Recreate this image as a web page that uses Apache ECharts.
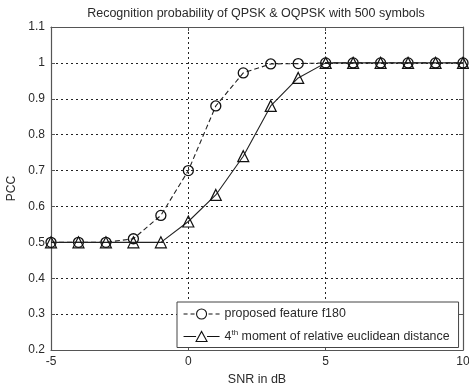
<!DOCTYPE html>
<html>
<head>
<meta charset="utf-8">
<script src="https://cdn.jsdelivr.net/npm/echarts@6/dist/echarts.min.js"></script>
<style>
  html, body { margin: 0; padding: 0; background: #fff; }
  #chart { width: 469px; height: 388px; }
</style>
</head>
<body>
<div id="chart"></div>
<script>
// SNR values (dB) and recognition probabilities
var snr = [-5, -4, -3, -2, -1, 0, 1, 2, 3, 4, 5, 6, 7, 8, 9, 10];
var pccF180 = [0.5, 0.5, 0.5, 0.51, 0.575, 0.70, 0.88, 0.972, 0.997, 0.998, 1, 1, 1, 1, 1, 1];
var pccMoment4 = [0.5, 0.5, 0.5, 0.5, 0.5, 0.558, 0.632, 0.74, 0.88, 0.958, 1, 1, 1, 1, 1, 1];
var seriesNames = ['proposed feature f180', '4{sup|th} moment of relative euclidean distance'];

var FONT = '"Liberation Sans", Arial, sans-serif';
var TXT = '#2a2a2a';
var HOLLOW = 'rgba(255,255,255,0)';

function pairs(xs, ys) {
  return xs.map(function (x, i) { return [x, ys[i]]; });
}

// legend glyphs: dashed line with a circle, solid line with a triangle (36 x 12 box)
var iconF180 = 'path://M0,6H4M7,6H11M13,6A5,5,0,1,0,23,6A5,5,0,1,0,13,6M25,6H29M32,6H36';
var iconMoment4 = 'path://M0,6H12.5M23.5,6H36M12.5,11L18,1L23.5,11Z';

var dashF180 = [5, 3];
var gridLine = { show: true, lineStyle: { color: '#222', type: [2, 3], width: 1 } };
var axisLine = { show: true, onZero: false, lineStyle: { color: '#555', width: 1.2 } };
var tick = { show: true, inside: true, length: 4, lineStyle: { color: '#555' } };

var chart = echarts.init(document.getElementById('chart'), null, { renderer: 'canvas' });
chart.setOption({
  animation: false,
  backgroundColor: '#fff',
  title: {
    text: 'Recognition probability of QPSK & OQPSK with 500 symbols',
    left: 251, top: 2, textAlign: 'center',
    textStyle: { fontFamily: FONT, fontSize: 12.5, fontWeight: 'normal', color: TXT }
  },
  grid: { left: 51, right: 6, top: 27, bottom: 38, outerBoundsMode: 'none', containLabel: false },
  xAxis: [{
    type: 'value', min: -5, max: 10, interval: 5,
    name: 'SNR in dB', nameLocation: 'middle', nameGap: 21,
    nameTextStyle: { fontFamily: FONT, fontSize: 12.5, color: TXT },
    axisLine: axisLine, axisTick: tick, splitLine: gridLine,
    axisLabel: { fontFamily: FONT, fontSize: 12, color: TXT, margin: 6 }
  }, {
    type: 'value', position: 'top', min: -5, max: 10, interval: 5,
    axisLine: axisLine, axisTick: tick, splitLine: { show: false },
    axisLabel: { show: false }
  }],
  yAxis: [{
    type: 'value', min: 0.2, max: 1.1, interval: 0.1,
    name: 'PCC', nameLocation: 'middle', nameGap: 30,
    nameTextStyle: { fontFamily: FONT, fontSize: 12, color: TXT },
    axisLine: axisLine, axisTick: tick, splitLine: gridLine,
    axisLabel: {
      fontFamily: FONT, fontSize: 12, color: TXT, margin: 6,
      formatter: function (v) { return String(Math.round(v * 10) / 10); }
    }
  }, {
    type: 'value', position: 'right', min: 0.2, max: 1.1, interval: 0.1,
    axisLine: axisLine, axisTick: tick, splitLine: { show: false },
    axisLabel: { show: false }
  }],
  legend: {
    orient: 'vertical', left: 177, top: 302,
    itemWidth: 36, itemHeight: 12, itemGap: 9,
    padding: [6, 9, 5, 6],
    borderColor: '#444', borderWidth: 1, backgroundColor: '#fff',
    itemStyle: { color: HOLLOW, borderColor: '#111', borderWidth: 1.1 },
    textStyle: {
      fontFamily: FONT, fontSize: 12.4, color: TXT,
      rich: { sup: { fontFamily: FONT, fontSize: 8, color: TXT, verticalAlign: 'top', padding: [0, 0, 7, 0] } }
    },
    data: [
      { name: seriesNames[0], icon: iconF180 },
      { name: seriesNames[1], icon: iconMoment4 }
    ]
  },
  series: [{
    name: seriesNames[0], type: 'line',
    data: pairs(snr, pccF180),
    symbol: 'circle', symbolSize: 10, showAllSymbol: true,
    lineStyle: { color: '#222', width: 1.1, type: dashF180 },
    itemStyle: { color: HOLLOW, borderColor: '#111', borderWidth: 1.3 },
    z: 3
  }, {
    name: seriesNames[1], type: 'line',
    data: pairs(snr, pccMoment4),
    symbol: 'triangle', symbolSize: 11, showAllSymbol: true,
    lineStyle: { color: '#222', width: 1.1, type: 'solid' },
    itemStyle: { color: HOLLOW, borderColor: '#111', borderWidth: 1.2 },
    z: 4
  }]
});
</script>
</body>
</html>
